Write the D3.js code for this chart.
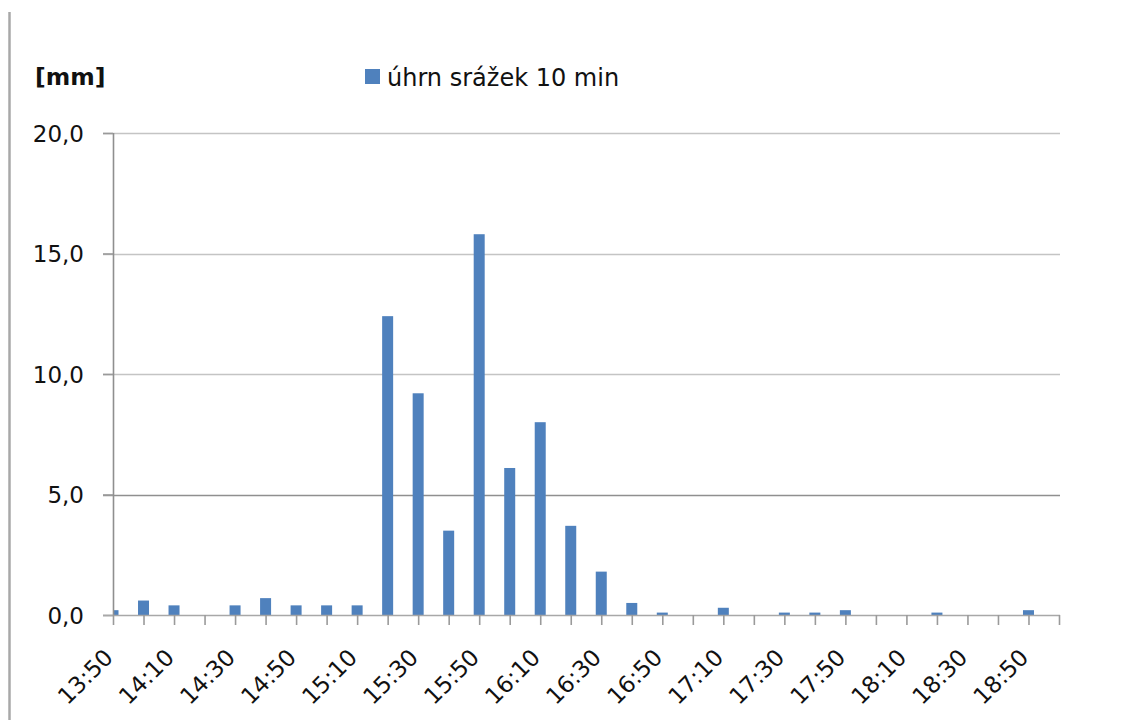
<!DOCTYPE html>
<html>
<head>
<meta charset="utf-8">
<script src="https://cdn.jsdelivr.net/npm/d3@7"></script>
<style>
  html, body { margin: 0; padding: 0; background: #fff; }
  svg { display: block; font-family: "DejaVu Sans", sans-serif; }
</style>
</head>
<body>
<svg id="chart" width="1132" height="720"></svg>
<script>
// 10-minute time steps
const times = ["13:50","14:00","14:10","14:20","14:30","14:40","14:50","15:00","15:10",
  "15:20","15:30","15:40","15:50","16:00","16:10","16:20","16:30","16:40","16:50",
  "17:00","17:10","17:20","17:30","17:40","17:50","18:00","18:10","18:20","18:30",
  "18:40","18:50","19:00"];
// precipitation total per 10 minutes [mm]
const rain = [0.2,0.6,0.4,0,0.4,0.7,0.4,0.4,0.4,12.4,9.2,3.5,15.8,6.1,8.0,3.7,1.8,
  0.5,0.1,0,0.3,0,0.1,0.1,0.2,0,0,0.1,0,0,0.2,0];
const yTicks = [0, 5, 10, 15, 20];
const seriesName = "úhrn srážek 10 min";
const unitLabel = "[mm]";

const svg = d3.select("#chart");
const plotL = 113, plotR = 1059, plotT = 133, plotB = 615;

const x = d3.scalePoint().domain(times).range([plotL, plotR]);
const y = d3.scaleLinear().domain([0, 20]).range([plotB, plotT]);
const fmt = v => d3.format(".1f")(v).replace(".", ",");

// page border on the left
svg.append("line").attr("x1", 9.5).attr("x2", 9.5).attr("y1", 12).attr("y2", 720)
  .attr("stroke", "#a8a8a8").attr("stroke-width", 2.5);

// horizontal gridlines
svg.append("g").selectAll("line").data(yTicks.filter(d => d > 0)).join("line")
  .attr("x1", plotL - 10).attr("x2", plotR + 1)
  .attr("y1", d => Math.round(y(d)) + 0.5).attr("y2", d => Math.round(y(d)) + 0.5)
  .attr("stroke", d => d === 5 ? "#8f8f8f" : "#c4c4c4")
  .attr("stroke-width", 1.6);

// bars, clipped to the plot area so the first one is cut at the axis
svg.append("clipPath").attr("id", "plot")
  .append("rect").attr("x", plotL).attr("y", 0).attr("width", plotR - plotL + 20).attr("height", plotB);

const barW = 11;
svg.append("g").attr("clip-path", "url(#plot)")
  .selectAll("rect").data(rain.map((v, i) => ({ t: times[i], v }))).join("rect")
  .attr("x", d => x(d.t) - barW / 2)
  .attr("width", barW)
  .attr("y", d => y(d.v))
  .attr("height", d => plotB - y(d.v))
  .attr("fill", "#4f81bd");

// y axis
const yAxis = svg.append("g").attr("transform", `translate(${plotL},0)`)
  .call(d3.axisLeft(y).tickValues(yTicks).tickFormat(fmt).tickSize(10).tickPadding(19));
yAxis.select(".domain").attr("stroke", "#8f8f8f").attr("stroke-width", 1.6)
  .attr("d", `M0.5,${plotT}V${plotB}`);
yAxis.selectAll(".tick line").attr("stroke", "#9a9a9a").attr("stroke-width", 1.6);
yAxis.selectAll(".tick text").attr("font-size", 23).attr("fill", "#111")
  .attr("font-family", "DejaVu Sans, sans-serif").attr("dy", "0.35em");

// x axis
const xAxis = svg.append("g").attr("transform", `translate(0,${plotB})`)
  .call(d3.axisBottom(x).tickSize(10).tickFormat((d, i) => i % 2 === 0 ? d : ""));
xAxis.select(".domain").attr("stroke", "#a8a8a8").attr("stroke-width", 1.6)
  .attr("d", `M${plotL - 10},0.5H${plotR + 1}`);
xAxis.selectAll(".tick line").attr("stroke", "#9a9a9a").attr("stroke-width", 1.6);
const xLabels = xAxis.selectAll(".tick text")
  .attr("font-size", 23).attr("fill", "#111")
  .attr("font-family", "DejaVu Sans, sans-serif")
  .attr("text-anchor", "end")
  .attr("y", 0).attr("dy", 0)
  .attr("transform", "rotate(-45)");

// place each slanted label so its right edge sits just past the tick
// and its top edge leaves a gap under the tick marks
const labelTop = 644, labelRightPad = 5;
xLabels.each(function (d) {
  if (!this.textContent) return;
  const r = this.getBoundingClientRect();
  const svgR = svg.node().getBoundingClientRect();
  const dx = (x(d) + labelRightPad) - (r.right - svgR.left);
  const dy = labelTop - (r.top - svgR.top);
  d3.select(this).attr("transform", `translate(${dx},${dy}) rotate(-45)`);
});

// unit label
svg.append("text").attr("x", 35).attr("y", 85)
  .attr("font-size", 23.5).attr("font-weight", "bold").attr("fill", "#111")
  .text(unitLabel);

// legend
svg.append("rect").attr("x", 365).attr("y", 69).attr("width", 15).attr("height", 15)
  .attr("fill", "#4f81bd");
svg.append("text").attr("x", 387).attr("y", 86)
  .attr("font-size", 24).attr("fill", "#111")
  .text(seriesName);
</script>
</body>
</html>
